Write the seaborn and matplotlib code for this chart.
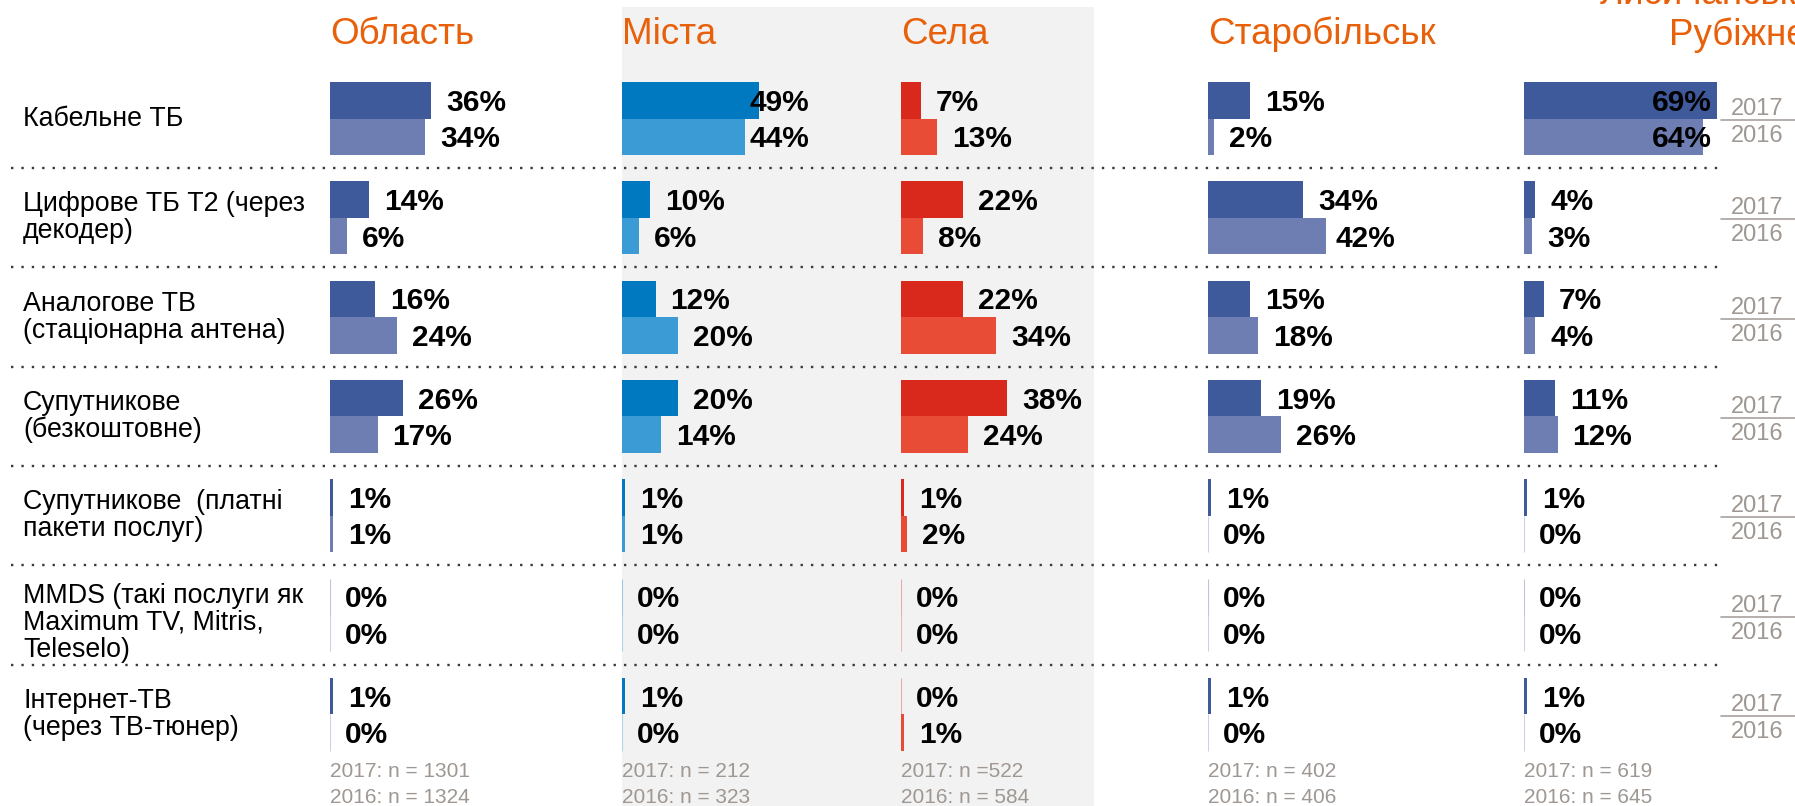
import matplotlib
matplotlib.use("Agg")
import matplotlib.pyplot as plt
import pandas as pd
import seaborn as sns
from matplotlib.patches import Rectangle

# ---- data -------------------------------------------------------------
categories = [
    "Кабельне ТБ",
    "Цифрове ТБ Т2 (через\nдекодер)",
    "Аналогове ТВ\n(стаціонарна антена)",
    "Супутникове\n(безкоштовне)",
    "Супутникове  (платні\nпакети послуг)",
    "MMDS (такі послуги як\nMaximum TV, Mitris,\nTeleselo)",
    "Інтернет-ТВ\n(через ТВ-тюнер)",
]
years = ["2017", "2016"]

group_titles = ["Область", "Міста", "Села", "Старобільськ", "Лисичанськ/\nРубіжне"]

oblast_2017 = [36, 14, 16, 26, 1, 0, 1]
oblast_2016 = [34, 6, 24, 17, 1, 0, 0]
cities_2017 = [49, 10, 12, 20, 1, 0, 1]
cities_2016 = [44, 6, 20, 14, 1, 0, 0]
villages_2017 = [7, 22, 22, 38, 1, 0, 0]
villages_2016 = [13, 8, 34, 24, 2, 0, 1]
starobilsk_2017 = [15, 34, 15, 19, 1, 0, 1]
starobilsk_2016 = [2, 42, 18, 26, 0, 0, 0]
rubizhne_2017 = [69, 4, 7, 11, 1, 0, 1]
rubizhne_2016 = [64, 3, 4, 12, 0, 0, 0]

sample_notes = [
    ["2017: n = 1301", "2016: n = 1324"],
    ["2017: n = 212", "2016: n = 323"],
    ["2017: n =522", "2016: n = 584"],
    ["2017: n = 402", "2016: n = 406"],
    ["2017: n = 619", "2016: n = 645"],
]

series = [
    (oblast_2017, oblast_2016),
    (cities_2017, cities_2016),
    (villages_2017, villages_2016),
    (starobilsk_2017, starobilsk_2016),
    (rubizhne_2017, rubizhne_2016),
]

# ---- styling ----------------------------------------------------------
BLUE = ("#3F5A9B", "#6E7DB2")
CYAN = ("#0079C1", "#3A9BD5")
RED = ("#D9291C", "#E84C36")
palettes = [BLUE, CYAN, RED, BLUE, BLUE]
ORANGE = "#E8600A"
GREY_TXT = "#9E9792"

W, H = 1795, 806
DPI = 100
group_left = [330, 622, 901, 1208, 1524]   # px
PX_PER_PCT = 2.8
AX_W = 280                                  # px, -> 100 %
ROW0_MID = 118.5                            # px from top
ROW_PITCH = 99.3                            # px
LABEL_PAD = 15                              # px gap between bar end and label
LABEL_LIMIT = 67.0                          # % - labels never run past this

sns.set_theme(style="white")
plt.rcParams["font.family"] = ["Liberation Sans", "DejaVu Sans"]

fig = plt.figure(figsize=(W / DPI, H / DPI), dpi=DPI)
fig.patch.set_facecolor("white")

n_rows = len(categories)
ax_top = ROW0_MID - 0.5 * ROW_PITCH
ax_h = n_rows * ROW_PITCH
ax_bottom = 1 - (ax_top + ax_h) / H


def fx(px):
    return px / W


def fy(py):
    return 1 - py / H


# grey band behind the urban / rural panels
fig.patches.append(Rectangle((fx(622), 0), fx(1094) - fx(622), fy(7), transform=fig.transFigure,
                             facecolor="#F2F2F2", edgecolor="none", zorder=-1))

# frame axes in pixel x-units sharing the row layout
frame = fig.add_axes([0, ax_bottom, 1, ax_h / H])
frame.set_xlim(0, W)
frame.set_ylim(n_rows - 0.5, -0.5)
frame.axis("off")

frame.hlines([i + 0.5 for i in range(n_rows - 1)], 11, 1720, colors="#3A3A3A",
             linestyles=(0, (1, 3.4)), linewidth=1.7)

for i, cat in enumerate(categories):
    n_lines = cat.count("\n") + 1
    frame.text(23, i + (0.08 if n_lines == 3 else 0.0), cat, ha="left", va="center",
               fontsize=19.3, color="black", linespacing=1.05)
    # year key on the right
    frame.text(1731, i - 3.5 / ROW_PITCH, years[0], ha="left", va="baseline",
               fontsize=17, color=GREY_TXT)
    frame.text(1731, i + 23.5 / ROW_PITCH, years[1], ha="left", va="baseline",
               fontsize=17, color=GREY_TXT)
    frame.plot([1721, 1795], [i + 1.5 / ROW_PITCH] * 2, color="#A8A29E", lw=1.2,
               clip_on=False)

# group titles
for k, title in enumerate(group_titles[:-1]):
    fig.text(fx(group_left[k]), fy(44), title, ha="left", va="baseline",
             fontsize=26.5, color=ORANGE)
top_line, bottom_line = group_titles[-1].split("\n")
fig.text(fx(1807), fy(4), top_line, ha="right", va="baseline", fontsize=26.5, color=ORANGE)
fig.text(fx(1807), fy(45), bottom_line, ha="right", va="baseline", fontsize=26.5, color=ORANGE)

# sample sizes
for k, (n17, n16) in enumerate(sample_notes):
    fig.text(fx(group_left[k]), fy(777), n17, ha="left", va="baseline", fontsize=15, color=GREY_TXT)
    fig.text(fx(group_left[k]), fy(803), n16, ha="left", va="baseline", fontsize=15, color=GREY_TXT)

bar_half = 0.735 / 4
value_texts = []
for k, (v17, v16) in enumerate(series):
    ax = fig.add_axes([fx(group_left[k]), ax_bottom, AX_W / W, ax_h / H])
    df = pd.DataFrame({
        "category": categories * 2,
        "year": [years[0]] * n_rows + [years[1]] * n_rows,
        "value": list(v17) + list(v16),
    })
    sns.barplot(data=df, x="value", y="category", hue="year", hue_order=years,
                order=categories, orient="h", palette=list(palettes[k]),
                width=0.735, dodge=True, saturation=1, errorbar=None,
                legend=False, ax=ax)
    ax.set_xlim(0, AX_W / PX_PER_PCT)
    ax.set_ylim(n_rows - 0.5, -0.5)
    ax.axis("off")
    for p in ax.patches:
        p.set_linewidth(0)
        if p.get_width() == 0:
            p.set_edgecolor(p.get_facecolor()[:3] + (0.35,))
            p.set_linewidth(0.8)
    for j, vals in enumerate((v17, v16)):
        for i, v in enumerate(vals):
            yc = i + (-bar_half if j == 0 else bar_half)
            t = ax.text(v + LABEL_PAD / PX_PER_PCT, yc + 10.5 / ROW_PITCH, f"{v}%",
                        ha="left", va="baseline", fontsize=21.5, fontweight="bold",
                        color="black", clip_on=False)
            value_texts.append((t, v))

# keep labels of long bars inside the panel's label zone
fig.canvas.draw()
renderer = fig.canvas.get_renderer()
for t, v in value_texts:
    w_pct = t.get_window_extent(renderer).width / PX_PER_PCT
    x0 = v + LABEL_PAD / PX_PER_PCT
    if x0 + w_pct > LABEL_LIMIT:
        t.set_ha("right")
        t.set_x(LABEL_LIMIT)

fig.savefig("out.png", dpi=DPI)
